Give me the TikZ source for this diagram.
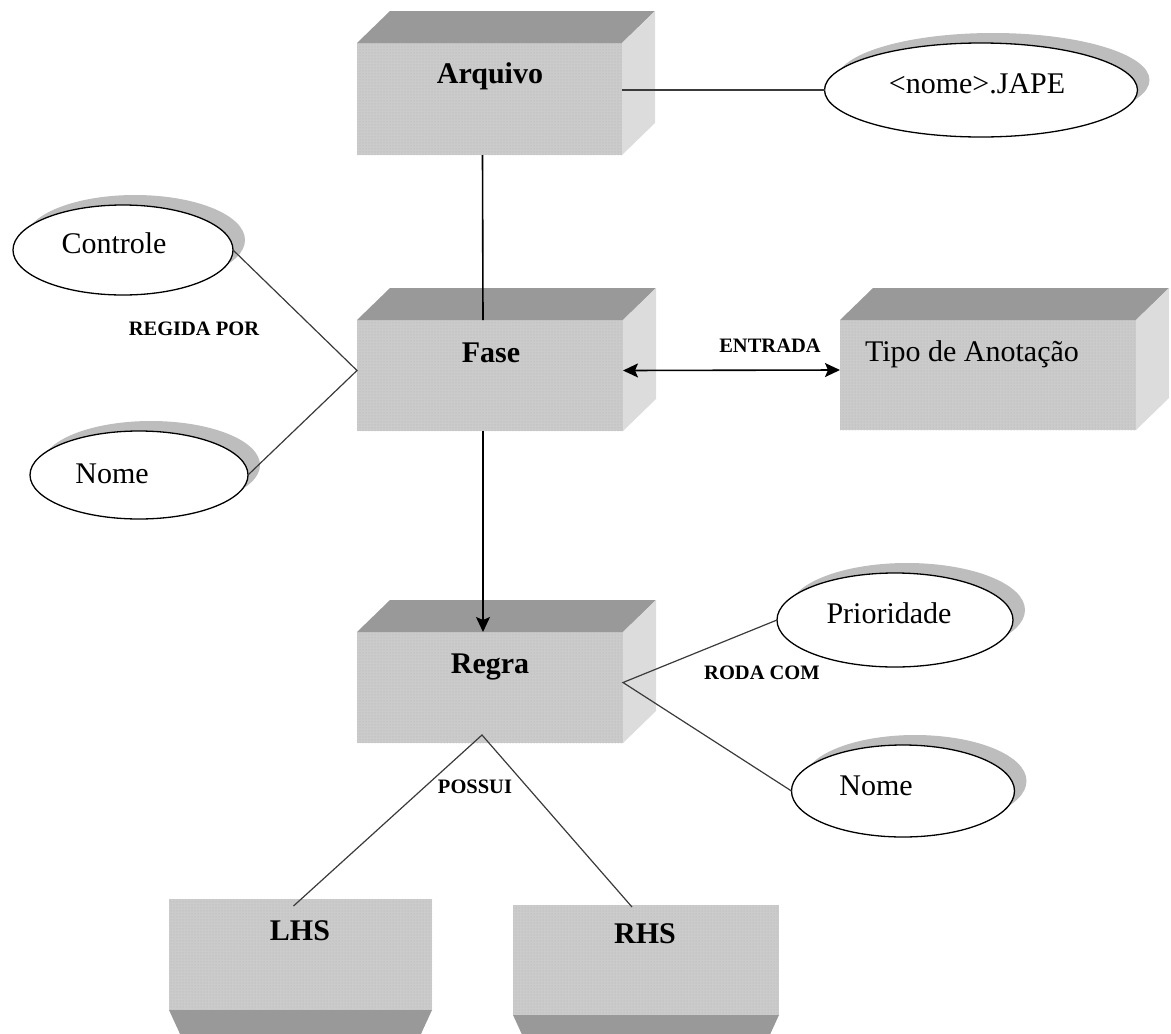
\documentclass[tikz,border=0pt]{standalone}
\usepackage{fontspec}
\setmainfont{Liberation Serif}
\usetikzlibrary{shapes.geometric,arrows.meta,patterns,shadows}

\definecolor{frontgray}{HTML}{CBCBCB}
\definecolor{topgray}{HTML}{999999}
\definecolor{sidegray}{HTML}{DCDCDC}
\definecolor{shadowgray}{HTML}{BDBDBD}
\definecolor{linegray}{HTML}{3A3A3A}

\tikzset{
  entity/.style={rectangle, inner sep=0pt, outer sep=0pt, fill=frontgray,
    postaction={pattern=dots, pattern color=black!30}},
  attr/.style={ellipse, draw=black, line width=1.3pt, fill=white,
    inner sep=0pt, outer sep=0pt,
    drop shadow={shadow xshift=12pt, shadow yshift=10pt, fill=shadowgray, opacity=1}},
  entitytext/.style={anchor=base, inner sep=0pt, font=\fontsize{30}{36}\selectfont\bfseries},
  plaintext/.style={anchor=base, inner sep=0pt, font=\fontsize{30}{36}\selectfont},
  reltext/.style={anchor=base, inner sep=0pt, font=\fontsize{20.5}{24}\selectfont\bfseries},
  link/.style={draw=linegray, line width=1.2pt},
  strong/.style={draw=black, line width=1.6pt},
  tip/.tip={Stealth[length=15pt, width=14pt, inset=3pt]}
}

% top and right faces of a raised box
\newcommand\raisedfaces[1]{%
  \fill[topgray] (#1.north west) -- ++(33,-32) -- ([shift={(33,-32)}]#1.north east) -- (#1.north east) -- cycle;
  \fill[sidegray] (#1.north east) -- ++(33,-32) -- ([shift={(33,-32)}]#1.south east) -- (#1.south east) -- cycle;
}
% bottom face of a lowered box, running down to the lower edge (#2 = depth)
\newcommand\lowerface[2]{%
  \fill[topgray] (#1.south west) -- (#1.south east) -- ++(-0.46*#2,#2) -- ([shift={(0.46*#2,#2)}]#1.south west) -- cycle;
}

\begin{document}
\begin{tikzpicture}[x=1pt, y=-1pt]
\useasboundingbox (0,0) rectangle (1171,1034);

% attributes
\node[attr, minimum width=313pt, minimum height=94pt] (jape)  at (981,90)  {};
\node[attr, minimum width=220pt, minimum height=90pt] (ctl)   at (123,250) {};
\node[attr, minimum width=218pt, minimum height=88pt] (fnome) at (139,475) {};
\node[attr, minimum width=236pt, minimum height=94pt] (prio)  at (895,620) {};
\node[attr, minimum width=223pt, minimum height=92pt] (rnome) at (903,791) {};

% entities
\node[entity, minimum width=265pt, minimum height=112pt] (arq)   at (489.5,99)  {};
\node[entity, minimum width=266pt, minimum height=111pt] (fase)  at (490,375.5) {};
\node[entity, minimum width=296pt, minimum height=110pt] (tipo)  at (988,375)   {};
\node[entity, minimum width=266pt, minimum height=111pt] (regra) at (490,687.5) {};
\node[entity, minimum width=263pt, minimum height=111pt] (lhs)   at (300.5,954.5) {};
\node[entity, minimum width=266pt, minimum height=110pt] (rhs)   at (646,960)   {};
\raisedfaces{arq}
\raisedfaces{fase}
\raisedfaces{tipo}
\raisedfaces{regra}
\lowerface{lhs}{24}
\lowerface{rhs}{19}

% connectors
\draw[link] (jape.west) -- (jape.west -| arq.east);
\draw[strong] ([xshift=-7pt]arq.south) -- ([xshift=-7pt]fase.north);
\draw[strong, -tip] ([xshift=-7pt]fase.south) -- ([xshift=-7pt]regra.north);
\draw[strong, tip-tip] ([yshift=5pt]fase.east) -- ([yshift=5pt]tipo.west);
\coordinate (fjoin) at ([yshift=5pt]fase.west);
\draw[link] (ctl.east) -- (fjoin) -- (fnome.east);
\coordinate (rjoin) at ([yshift=5pt]regra.east);
\draw[link] (prio.west) -- (rjoin) -- (rnome.west);
\coordinate (apex) at ([shift={(-8,-8)}]regra.south);
\draw[link] ([shift={(-7,7)}]lhs.north) -- (apex) -- ([shift={(-14,2)}]rhs.north);

% entity names
\node[entitytext] (arqt)   at (490,83)  {Arquivo};
\node[entitytext] (faset)  at (491,362) {Fase};
\node[entitytext] (regrat) at (490,673) {Regra};
\node[entitytext] (lhst)   at (300,940) {LHS};
\node[entitytext] (rhst)   at (645,943) {RHS};
\node[plaintext]  (tipot)  at (972,361) {Tipo de Anotação};

% attribute names
\node[plaintext] (japet)  at (977,93)  {<nome>.JAPE};
\node[plaintext] (ctlt)   at (114,253) {Controle};
\node[plaintext] (fnomet) at (112,483) {Nome};
\node[plaintext] (priot)  at (889,623) {Prioridade};
\node[plaintext] (rnomet) at (876,795) {Nome};

% relationship names
\node[reltext] (regida) at (194,335) {REGIDA POR};
\node[reltext] (entr)   at (770,352) {ENTRADA};
\node[reltext] (roda)   at (762,679) {RODA COM};
\node[reltext] (possui) at (475,793) {POSSUI};
\end{tikzpicture}
\end{document}
